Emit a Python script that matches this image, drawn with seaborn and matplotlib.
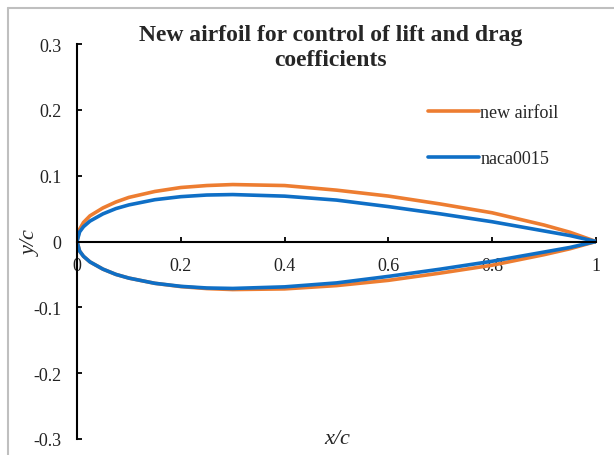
import pandas as pd
import seaborn as sns
import matplotlib.pyplot as plt
from matplotlib.lines import Line2D

# chordwise stations
x_c = [0, 0.005, 0.0125, 0.025, 0.05, 0.075, 0.1, 0.15, 0.2, 0.25, 0.3,
       0.4, 0.5, 0.6, 0.7, 0.8, 0.9, 0.95, 1.0]

# new airfoil
new_upper = [0, 0.0185, 0.029, 0.039, 0.051, 0.060, 0.067, 0.076, 0.082, 0.085, 0.0865,
             0.085, 0.078, 0.069, 0.057, 0.0436, 0.025, 0.014, 0]
new_lower = [0, -0.0145, -0.0225, -0.031, -0.042, -0.050, -0.0556, -0.0635, -0.0685, -0.0715, -0.073,
             -0.072, -0.067, -0.059, -0.048, -0.036, -0.020, -0.011, 0]

# naca0015 as drawn
naca_upper = [0, 0.0145, 0.0225, 0.031, 0.042, 0.050, 0.0556, 0.0635, 0.0681, 0.0706, 0.0713,
              0.0689, 0.0629, 0.053, 0.042, 0.030, 0.016, 0.009, 0]
naca_lower = [-v for v in naca_upper]

names = ['new airfoil', 'naca0015']
colors = ['#ED7D31', '#0F6FC6']


def contour(upper, lower):
    # trailing edge -> leading edge over the top, then back along the bottom
    xs = x_c[::-1] + x_c[1:]
    ys = upper[::-1] + lower[1:]
    return xs, ys


rows = []
for name, up, lo in [(names[0], new_upper, new_lower), (names[1], naca_upper, naca_lower)]:
    xs, ys = contour(up, lo)
    for a, b in zip(xs, ys):
        rows.append({'airfoil': name, 'x': a, 'y': b})
df = pd.DataFrame(rows)

sns.set_theme(style='white')
plt.rcParams['font.family'] = ['Liberation Serif', 'DejaVu Serif']
plt.rcParams['axes.unicode_minus'] = False

fig = plt.figure(figsize=(6.14, 4.56), dpi=100)
ax = fig.add_axes([77 / 614, 1 - 440 / 456, (596 - 77) / 614, (440 - 45) / 456])

sns.lineplot(data=df, x='x', y='y', hue='airfoil', hue_order=names,
             palette=colors, sort=False, estimator=None, linewidth=2.6, ax=ax)

ax.set_xlim(0, 1)
ax.set_ylim(-0.3, 0.3)
ax.set_xticks([0, 0.2, 0.4, 0.6, 0.8, 1])
ax.set_xticklabels(['0', '0.2', '0.4', '0.6', '0.8', '1'])
ax.set_yticks([-0.3, -0.2, -0.1, 0, 0.1, 0.2, 0.3])
ax.set_yticklabels(['-0.3', '-0.2', '-0.1', '0', '0.1', '0.2', '0.3'])

for s in ['top', 'right']:
    ax.spines[s].set_visible(False)
ax.spines['bottom'].set_position(('data', 0))
for s in ['left', 'bottom']:
    ax.spines[s].set_color('black')
    ax.spines[s].set_linewidth(1.5)

ax.tick_params(axis='both', direction='in', length=3.5, width=1.3, color='black',
               labelsize=13, labelcolor='#222222')
ax.tick_params(axis='y', pad=11, left=True)
ax.tick_params(axis='x', pad=11, bottom=True)
ax.set_xlabel('')
ax.set_ylabel('')

fig.text(337 / 614, 1 - 440 / 456, 'x/c', style='italic', fontsize=16,
         ha='center', va='center')
fig.text(31 / 614, 1 - 243 / 456, 'y/c', style='italic', fontsize=16,
         ha='center', va='center', rotation=90)

fig.text(331 / 614, 1 - 48 / 456, 'New airfoil for control of lift and drag\ncoefficients',
         fontsize=17, fontweight='bold', ha='center', va='center', linespacing=1.2)

handles = [Line2D([], [], color=c, linewidth=2.6) for c in colors]
ax.legend(handles, names, loc='upper left', bbox_to_anchor=(428 / 614, 1 - 105 / 456),
          bbox_transform=fig.transFigure, frameon=False, fontsize=13,
          handlelength=2.8, handletextpad=0.1, labelspacing=1.6,
          borderpad=0, borderaxespad=0)

# chart area border (only left and top edges visible in the crop)
bx, by = 7.5 / 614, 1 - 9 / 456
fig.add_artist(Line2D([bx, bx], [0, by], transform=fig.transFigure, color='#BFBFBF', linewidth=1.5))
fig.add_artist(Line2D([bx, 1], [by, by], transform=fig.transFigure, color='#BFBFBF', linewidth=1.5))

fig.savefig('out.png', dpi=100)
